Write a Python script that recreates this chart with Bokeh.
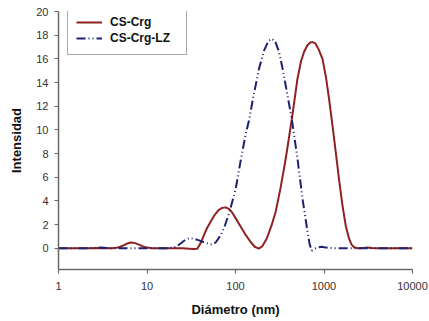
from bokeh.plotting import figure
from bokeh.models import ColumnDataSource, FixedTicker, NumeralTickFormatter, Range1d
from bokeh.embed import file_html
from bokeh.resources import INLINE

# Particle size distributions (intensity vs. hydrodynamic diameter)
diam_crg = [1, 2, 3, 4, 4.5, 5, 5.5, 6, 6.6, 7.2, 8, 9, 10, 11.5, 15, 20, 25, 30, 34, 37,
            40.5, 44, 48, 52.6, 58, 64, 70, 77.6, 85, 92, 101, 115, 131, 149, 165, 183,
            200, 225, 255, 285, 325, 370, 433, 501, 550, 596, 650, 700, 741, 800, 870,
            961, 1050, 1142, 1250, 1359, 1480, 1618, 1760, 1922, 2050, 2190, 2400, 2800,
            3100, 3500, 4000, 10000]
int_crg = [0, 0, 0.01, 0, 0.03, 0.12, 0.26, 0.4, 0.48, 0.45, 0.32, 0.15, 0.05, 0, 0, 0,
           -0.01, -0.04, -0.07, -0.05, 0.45, 1.1, 1.75, 2.25, 2.8, 3.2, 3.4, 3.45, 3.3,
           3.0, 2.5, 1.8, 1.1, 0.5, 0.12, -0.03, 0.15, 0.8, 1.9, 3.1, 5.2, 7.6, 10.9, 14.3,
           15.8, 16.6, 17.15, 17.38, 17.42, 17.3, 16.8, 16.0, 14.5, 12.6, 10.3, 8.1, 5.8,
           3.6, 1.9, 0.8, 0.3, 0.08, 0, 0.02, 0.05, 0.01, 0, 0]

diam_lz = [1, 2, 2.5, 3, 3.5, 4, 10, 15, 18, 21, 24, 27, 29.9, 33, 38, 44, 50, 55, 60, 68,
           75, 85, 92.5, 101, 115, 130, 143, 160, 185, 210, 235, 257, 280, 310, 340, 385,
           433, 501, 571, 651, 690, 728, 780, 850, 944, 1050, 1250, 10000]
int_lz = [0, 0, 0.02, 0.05, 0.02, 0, 0, 0, 0, 0.1, 0.4, 0.7, 0.85, 0.82, 0.68, 0.5, 0.36,
          0.31, 0.5, 1.1, 1.8, 3.0, 4.0, 5.1, 7.5, 9.6, 10.9, 12.9, 15.2, 16.7, 17.5, 17.7,
          17.5, 16.6, 15.2, 13.0, 10.9, 7.6, 4.2, 1.4, 0.3, -0.2, -0.05, 0.08, 0.12, 0.05,
          0, 0]

x_ticks = [1, 10, 100, 1000, 10000]
y_ticks = [0, 2, 4, 6, 8, 10, 12, 14, 16, 18, 20]

FONT = "Liberation Sans"

p = figure(width=429, height=321, x_axis_type="log", output_backend="svg",
           toolbar_location=None, x_range=Range1d(1, 10000), y_range=Range1d(-1.8, 20),
           min_border_left=58, min_border_right=17, min_border_top=11, min_border_bottom=52)
p.outline_line_color = None
p.xgrid.visible = False
p.ygrid.visible = False
p.background_fill_color = "white"
p.border_fill_color = "white"

src_crg = ColumnDataSource(dict(x=diam_crg, y=int_crg))
src_lz = ColumnDataSource(dict(x=diam_lz, y=int_lz))

p.line("x", "y", source=src_crg, line_color="#8E2222", line_width=2, legend_label="CS-Crg")
p.line("x", "y", source=src_lz, line_color="#1E2070", line_width=2,
       line_dash="9 3 1 3 1 3", legend_label="CS-Crg-LZ")

for ax in (p.xaxis[0], p.yaxis[0]):
    ax.axis_line_color = "#6a6a6a"
    ax.axis_line_width = 1.5
    ax.major_tick_line_color = "#6a6a6a"
    ax.major_tick_line_width = 1.2
    ax.major_tick_in = 0
    ax.major_tick_out = 4
    ax.minor_tick_line_color = None
    ax.major_label_text_font = FONT
    ax.major_label_text_font_size = "11px"
    ax.major_label_text_color = "#333333"
    ax.axis_label_text_font = FONT
    ax.axis_label_text_font_style = "bold"
    ax.axis_label_text_font_size = "13px"
    ax.axis_label_text_color = "#111111"

p.xaxis.ticker = FixedTicker(ticks=x_ticks)
p.xaxis.formatter = NumeralTickFormatter(format="0")
p.xaxis.axis_label = "Diámetro (nm)"
p.xaxis.major_label_standoff = 8
p.xaxis.axis_label_standoff = 9

p.yaxis.ticker = FixedTicker(ticks=y_ticks)
p.yaxis.axis_label = "Intensidad"
p.yaxis.major_label_standoff = 6
p.yaxis.axis_label_standoff = 9

lg = p.legend[0]
lg.location = (9, 214)
lg.border_line_color = "#555555"
lg.border_line_width = 1
lg.background_fill_color = "white"
lg.background_fill_alpha = 1
lg.padding = 8
lg.spacing = 0
lg.margin = 0
lg.label_height = 16
lg.glyph_height = 16
lg.glyph_width = 26
lg.label_standoff = 8
lg.label_width = 68
lg.label_text_font = FONT
lg.label_text_font_style = "bold"
lg.label_text_font_size = "12px"
lg.label_text_color = "#111111"

open("out.html", "w").write(file_html(p, INLINE))
